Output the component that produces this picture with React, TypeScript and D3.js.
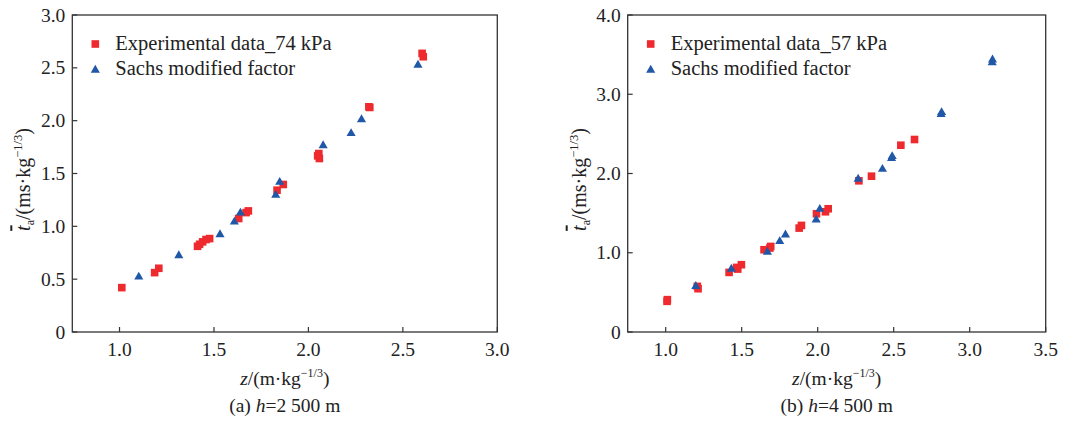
import React from "react";
import * as d3 from "d3";

// ---- Data: panel (a) h = 2 500 m ----
const expA_z = [1.012, 1.186, 1.208, 1.413, 1.424, 1.44, 1.458, 1.477, 1.631, 1.67, 1.682, 1.834, 1.867, 2.049, 2.055, 2.058, 2.32, 2.325, 2.602, 2.608];
const expA_t = [0.42, 0.562, 0.603, 0.811, 0.83, 0.853, 0.875, 0.884, 1.074, 1.13, 1.146, 1.342, 1.396, 1.667, 1.689, 1.642, 2.131, 2.125, 2.637, 2.605];
const sachsA_z = [1.102, 1.314, 1.532, 1.608, 1.64, 1.827, 1.848, 2.078, 2.226, 2.281, 2.58];
const sachsA_t = [0.521, 0.723, 0.922, 1.042, 1.127, 1.295, 1.418, 1.765, 1.879, 2.011, 2.526];

// ---- Data: panel (b) h = 4 500 m ----
const expB_z = [1.009, 1.011, 1.208, 1.213, 1.417, 1.467, 1.474, 1.498, 1.647, 1.685, 1.691, 1.878, 1.893, 1.992, 2.051, 2.069, 2.271, 2.354, 2.547, 2.637];
const expB_t = [0.387, 0.408, 0.576, 0.546, 0.752, 0.815, 0.794, 0.849, 1.038, 1.059, 1.08, 1.311, 1.345, 1.492, 1.517, 1.555, 1.908, 1.966, 2.357, 2.429];
const sachsB_z = [1.198, 1.432, 1.669, 1.75, 1.788, 1.99, 2.014, 2.266, 2.426, 2.486, 2.49, 2.812, 2.815, 3.148, 3.15];
const sachsB_t = [0.576, 0.794, 1.008, 1.143, 1.227, 1.416, 1.55, 1.929, 2.055, 2.19, 2.215, 2.745, 2.77, 3.4, 3.435];

const ticksA_x = [1.0, 1.5, 2.0, 2.5, 3.0];
const ticksA_y = [0, 0.5, 1.0, 1.5, 2.0, 2.5, 3.0];
const ticksB_x = [1.0, 1.5, 2.0, 2.5, 3.0, 3.5];
const ticksB_y = [0, 1.0, 2.0, 3.0, 4.0];

const legendExpA = "Experimental data_74 kPa";
const legendExpB = "Experimental data_57 kPa";
const legendSachs = "Sachs modified factor";

const RED = "#ee2a2e";
const BLUE = "#2157a7";
const AXIS = "#333";
const FONT = "'Liberation Serif', 'Times New Roman', serif";

type PanelProps = {
  left: number;
  right: number;
  xDomain: [number, number];
  yDomain: [number, number];
  xTicks: number[];
  yTicks: number[];
  expZ: number[];
  expT: number[];
  sZ: number[];
  sT: number[];
  legendExp: string;
  caption: string;
  hval: string;
};

const fmt = (v: number) => (v === 0 ? "0" : d3.format(".1f")(v));

function Panel(p: PanelProps) {
  const top = 15;
  const bottom = 332;
  const x = d3.scaleLinear().domain(p.xDomain).range([p.left, p.right]);
  const y = d3.scaleLinear().domain(p.yDomain).range([bottom, top]);
  const sq = d3.symbol().type(d3.symbolSquare).size(58)()!;
  const tri = d3.symbol().type(d3.symbolTriangle).size(36)()!;
  const cx = (p.left + p.right) / 2;
  const cy = (top + bottom) / 2 + 6;
  const lx = p.left + 23;
  return (
    <g fontFamily={FONT}>
      <rect x={p.left} y={top} width={p.right - p.left} height={bottom - top} fill="none" stroke={AXIS} strokeWidth={1.3} />
      {p.xTicks.map((t) => (
        <g key={"x" + t}>
          <line x1={x(t)} x2={x(t)} y1={bottom} y2={bottom - 5} stroke={AXIS} strokeWidth={1.2} />
          <text x={x(t)} y={355.5} textAnchor="middle" fontSize={19.5} fill="#222">{fmt(t)}</text>
        </g>
      ))}
      {p.yTicks.map((t) => (
        <g key={"y" + t}>
          <line x1={p.left} x2={p.left + 5} y1={y(t)} y2={y(t)} stroke={AXIS} strokeWidth={1.2} />
          <text x={p.left - 7} y={y(t) + 6.5} textAnchor="end" fontSize={19.5} fill="#222">{fmt(t)}</text>
        </g>
      ))}
      {p.expZ.map((z, i) => (
        <path key={"e" + i} d={sq} transform={`translate(${x(z)},${y(p.expT[i])})`} fill={RED} />
      ))}
      {p.sZ.map((z, i) => (
        <path key={"s" + i} d={tri} transform={`translate(${x(z)},${y(p.sT[i])})`} fill={BLUE} />
      ))}
      {/* legend */}
      <path d={sq} transform={`translate(${lx},${44})`} fill={RED} />
      <text x={lx + 20} y={50} fontSize={20.5} fill="#222">{p.legendExp}</text>
      <path d={tri} transform={`translate(${lx},${70})`} fill={BLUE} />
      <text x={lx + 20} y={75} fontSize={20.5} fill="#222">{legendSachs}</text>
      {/* x label */}
      <text x={cx} y={385} textAnchor="middle" fontSize={19.5} fill="#222">
        <tspan fontStyle="italic">z</tspan>
        <tspan>/(m·kg</tspan>
        <tspan fontSize={12} dy={-8}>−1/3</tspan>
        <tspan dy={8}>)</tspan>
      </text>
      {/* caption */}
      <text x={cx} y={412} textAnchor="middle" fontSize={19.5} fill="#222">
        <tspan>{p.caption} </tspan>
        <tspan fontStyle="italic">h</tspan>
        <tspan>={p.hval}</tspan>
      </text>
      {/* y label */}
      <text transform={`translate(${p.left - 42},${cy}) rotate(-90)`} textAnchor="middle" fontSize={20} fill="#222">
        <tspan fontStyle="italic" style={{ textDecoration: "overline" }}>t</tspan>
        <tspan fontSize={12} dy={4}>a</tspan>
        <tspan dy={-4}>/(ms·kg</tspan>
        <tspan fontSize={12.5} dy={-8}>−1/3</tspan>
        <tspan dy={8}>)</tspan>
      </text>
    </g>
  );
}

export default function App() {
  return (
    <svg width={1089} height={421} style={{ position: "absolute", left: 0, top: 0, background: "#fff" }}>
      <rect width={1089} height={421} fill="#fff" />
      <Panel left={72.3} right={497.3} xDomain={[0.75, 3.0]} yDomain={[0, 3]} xTicks={ticksA_x} yTicks={ticksA_y}
        expZ={expA_z} expT={expA_t} sZ={sachsA_z} sT={sachsA_t} legendExp={legendExpA} caption="(a)" hval="2 500 m" />
      <Panel left={627.7} right={1045.7} xDomain={[0.75, 3.5]} yDomain={[0, 4]} xTicks={ticksB_x} yTicks={ticksB_y}
        expZ={expB_z} expT={expB_t} sZ={sachsB_z} sT={sachsB_t} legendExp={legendExpB} caption="(b)" hval="4 500 m" />
    </svg>
  );
}
